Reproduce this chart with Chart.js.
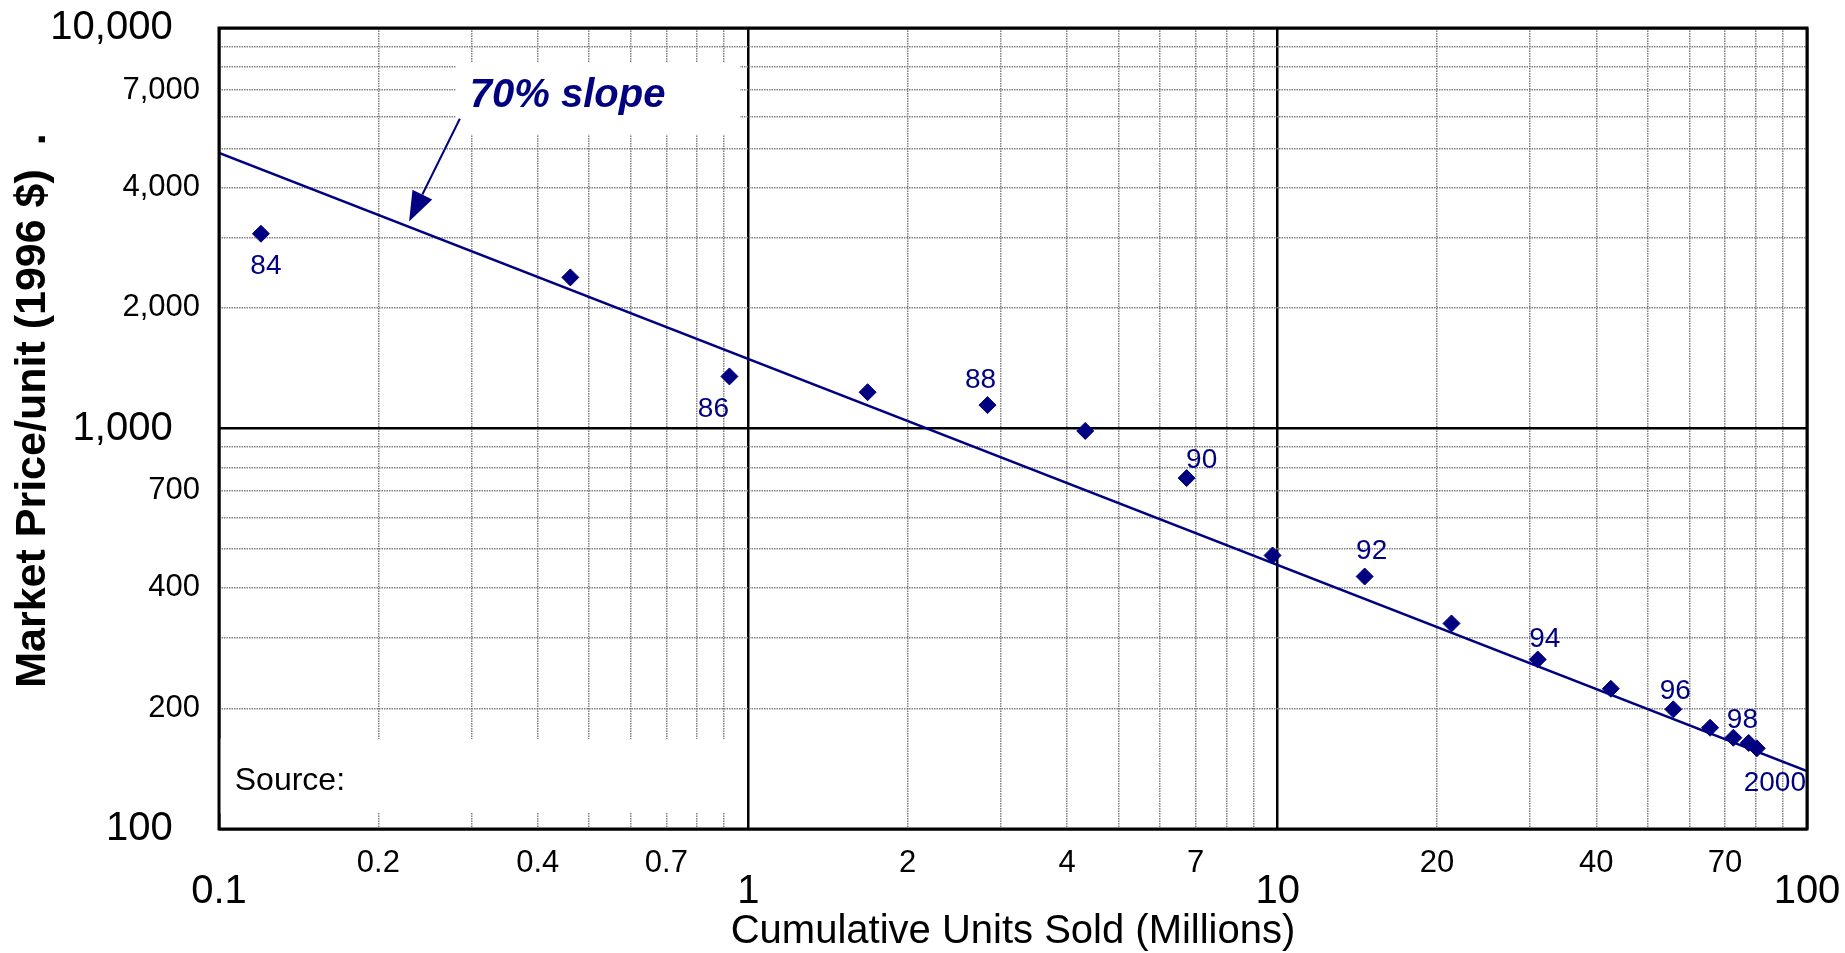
<!DOCTYPE html>
<html>
<head>
<meta charset="utf-8">
<title>Experience curve</title>
<script src="https://cdn.jsdelivr.net/npm/chart.js@4.4.1/dist/chart.umd.min.js"></script>
<style>
  html, body { margin: 0; padding: 0; background: #fff; }
  #wrap { width: 1845px; height: 953px; position: relative; }
</style>
</head>
<body>
<div id="wrap"><canvas id="curve"></canvas></div>
<script>
// data
var years = ['84', '85', '86', '87', '88', '89', '90', '91', '92', '93', '94', '95', '96', '97', '98', '99', '2000'];
var unitsSold = [0.120, 0.461, 0.921, 1.68, 2.83, 4.33, 6.73, 9.78, 14.6, 21.3, 31.0, 42.6, 55.9, 65.6, 72.6, 77.6, 80.4];
var pricePerUnit = [3064, 2384, 1349, 1232, 1144, 986, 752, 482, 427, 326, 265, 224, 199, 179, 169, 164, 159];
var shownYears = ['84', '86', '88', '90', '92', '94', '96', '98', '2000'];

// 70% slope line end points
var slopeUnits = [0.1, 100];
var slopePrice = [4875, 139.5];

// tick labels
var xMinorLabels = [0.2, 0.4, 0.7, 2, 4, 7, 20, 40, 70];
var xMajorLabels = [0.1, 1, 10, 100];
var yMinorLabels = [200, 400, 700, 2000, 4000, 7000];
var yMajorLabels = [100, 1000, 10000];

var NAVY = '#000080';
Chart.defaults.font.family = "'Liberation Sans', Arial, Helvetica, sans-serif";
Chart.defaults.color = '#000';

// every 1..9 step of each decade, for the grid
function decadeSteps(from, to) {
    var out = [];
    for (var d = from; d < to; d *= 10) {
        for (var m = 1; m < 10; m++) out.push(+(m * d).toPrecision(3));
    }
    out.push(to);
    return out;
}
function isDecade(v) {
    var l = Math.log10(v);
    return Math.abs(l - Math.round(l)) < 1e-6;
}

// label placement next to each diamond (pixels, from the point)
var labelOffset = {
    '84': [5, 33], '86': [-16, 33], '88': [-7, -25], '90': [15, -18], '92': [7, -25],
    '94': [7, -20], '96': [2, -18], '98': [9, -17], '2000': [18, 35]
};

// annotations, in data units
var whiteBoxes = [
    { x0: 0.280, x1: 0.964, y0: 5415, y1: 8178 },
    { x0: 0.1, x1: 0.964, y0: 109.6, y1: 167.8 }
];
var slopeNote = { text: '70% slope', x: 0.2977, y: 6341, tailX: 0.2851, tailY: 5935, tipX: 0.2286, tipY: 3289 };
var sourceNote = { text: 'Source:', x: 0.1071, y: 125.3 };

var decorations = {
    id: 'decorations',
    beforeDatasetsDraw: function(chart) {
        var ctx = chart.ctx, xs = chart.scales.x, ys = chart.scales.y;
        ctx.save();
        ctx.fillStyle = '#fff';
        whiteBoxes.forEach(function(b) {
            var l = xs.getPixelForValue(b.x0), r = xs.getPixelForValue(b.x1);
            var t = ys.getPixelForValue(b.y1), bt = ys.getPixelForValue(b.y0);
            ctx.fillRect(l, t, r - l, bt - t);
        });
        ctx.restore();
    },
    afterDatasetsDraw: function(chart) {
        var ctx = chart.ctx, xs = chart.scales.x, ys = chart.scales.y, a = chart.chartArea;
        ctx.save();
        // frame
        ctx.strokeStyle = '#000';
        ctx.lineWidth = 3;
        ctx.strokeRect(a.left, a.top, a.right - a.left, a.bottom - a.top);

        // year labels
        var pts = chart.getDatasetMeta(0).data;
        ctx.fillStyle = NAVY;
        ctx.font = "28px 'Liberation Sans', Arial, sans-serif";
        ctx.textAlign = 'center';
        ctx.textBaseline = 'middle';
        years.forEach(function(yr, i) {
            if (shownYears.indexOf(yr) < 0) return;
            var off = labelOffset[yr];
            ctx.fillText(yr, pts[i].x + off[0], pts[i].y + off[1]);
        });

        // slope note and arrow
        ctx.font = "italic bold 40px 'Liberation Sans', Arial, sans-serif";
        ctx.textAlign = 'left';
        ctx.textBaseline = 'alphabetic';
        ctx.fillText(slopeNote.text, xs.getPixelForValue(slopeNote.x), ys.getPixelForValue(slopeNote.y));

        var x0 = xs.getPixelForValue(slopeNote.tailX), y0 = ys.getPixelForValue(slopeNote.tailY);
        var x1 = xs.getPixelForValue(slopeNote.tipX), y1 = ys.getPixelForValue(slopeNote.tipY);
        var ang = Math.atan2(y1 - y0, x1 - x0);
        var headLen = 30, headHalf = 11;
        var bx = x1 - Math.cos(ang) * headLen, by = y1 - Math.sin(ang) * headLen;
        ctx.strokeStyle = NAVY;
        ctx.lineWidth = 2;
        ctx.beginPath();
        ctx.moveTo(x0, y0);
        ctx.lineTo(bx, by);
        ctx.stroke();
        ctx.beginPath();
        ctx.moveTo(x1, y1);
        ctx.lineTo(bx + Math.sin(ang) * headHalf, by - Math.cos(ang) * headHalf);
        ctx.lineTo(bx - Math.sin(ang) * headHalf, by + Math.cos(ang) * headHalf);
        ctx.closePath();
        ctx.fill();

        // source note
        ctx.fillStyle = '#000';
        ctx.font = "32px 'Liberation Sans', Arial, sans-serif";
        ctx.fillText(sourceNote.text, xs.getPixelForValue(sourceNote.x), ys.getPixelForValue(sourceNote.y));
        ctx.restore();
    }
};

var gridX = decadeSteps(0.1, 100);
var gridY = decadeSteps(100, 10000);

var gridStyle = {
    color: function(c) { return isDecade(c.tick.value) ? '#000' : '#808080'; },
    lineWidth: function(c) { return isDecade(c.tick.value) ? 2.5 : 1.5; },
    drawTicks: false
};
var borderStyle = {
    display: false,
    dash: function(c) { return isDecade(c.tick.value) ? [] : [1.5, 1]; }
};

var ctx = document.getElementById('curve').getContext('2d');
var curveChart = new Chart(ctx, {
    type: 'scatter',
    data: {
        datasets: [{
            label: 'Market price',
            data: unitsSold.map(function(u, i) { return { x: u, y: pricePerUnit[i] }; }),
            pointStyle: 'rectRot',
            pointRadius: 8.5,
            pointBorderWidth: 1,
            backgroundColor: NAVY,
            borderColor: NAVY
        }, {
            label: '70% slope',
            data: slopeUnits.map(function(u, i) { return { x: u, y: slopePrice[i] }; }),
            showLine: true,
            pointRadius: 0,
            borderColor: NAVY,
            borderWidth: 2.5
        }]
    },
    options: {
        responsive: true,
        maintainAspectRatio: false,
        animation: false,
        layout: { padding: { left: 0, top: 28, right: 38, bottom: 0 } },
        plugins: { legend: { display: false }, tooltip: { enabled: false } },
        scales: {
            x: {
                type: 'logarithmic', position: 'bottom', min: 0.1, max: 100,
                afterBuildTicks: function(s) { s.ticks = gridX.map(function(v) { return { value: v }; }); },
                afterFit: function(s) { s.height = 46; },
                grid: gridStyle,
                border: borderStyle,
                ticks: {
                    autoSkip: false, maxRotation: 0, padding: 15.4,
                    font: { size: 31 },
                    callback: function(v) { return xMinorLabels.indexOf(v) >= 0 ? String(v) : ''; }
                }
            },
            x2: {
                type: 'logarithmic', position: 'bottom', min: 0.1, max: 100, weight: 1,
                afterBuildTicks: function(s) { s.ticks = xMajorLabels.map(function(v) { return { value: v }; }); },
                afterFit: function(s) { s.height = 78; },
                grid: { display: false, drawTicks: false },
                border: { display: false },
                ticks: {
                    autoSkip: false, maxRotation: 0, padding: -7.5,
                    font: { size: 40 },
                    callback: function(v) { return String(v); }
                },
                title: {
                    display: true,
                    text: 'Cumulative Units Sold (Millions)',
                    font: { size: 40, lineHeight: 1.2 },
                    padding: { top: 0, bottom: -3 }
                }
            },
            y: {
                type: 'logarithmic', position: 'left', min: 100, max: 10000,
                afterBuildTicks: function(s) { s.ticks = gridY.map(function(v) { return { value: v }; }); },
                afterFit: function(s) { s.width = 104; },
                grid: gridStyle,
                border: borderStyle,
                ticks: {
                    autoSkip: false, padding: 19,
                    font: { size: 31, lineHeight: 0.5 },
                    callback: function(v) { return yMinorLabels.indexOf(v) >= 0 ? v.toLocaleString('en-US') : ''; }
                }
            },
            y2: {
                type: 'logarithmic', position: 'left', min: 100, max: 10000, weight: 1,
                afterBuildTicks: function(s) { s.ticks = yMajorLabels.map(function(v) { return { value: v }; }); },
                afterFit: function(s) { s.width = 115; },
                grid: { display: false, drawTicks: false },
                border: { display: false },
                ticks: {
                    autoSkip: false, mirror: true, crossAlign: 'far', padding: -64.7,
                    font: { size: 40 },
                    callback: function(v) { return v.toLocaleString('en-US'); }
                },
                title: {
                    display: true,
                    text: '   Market Price/unit (1996 $)  .',
                    font: { size: 43, weight: 'bold', lineHeight: 1.2 },
                    padding: { top: 7.6, bottom: 0 }
                }
            }
        }
    },
    plugins: [decorations]
});
</script>
</body>
</html>
